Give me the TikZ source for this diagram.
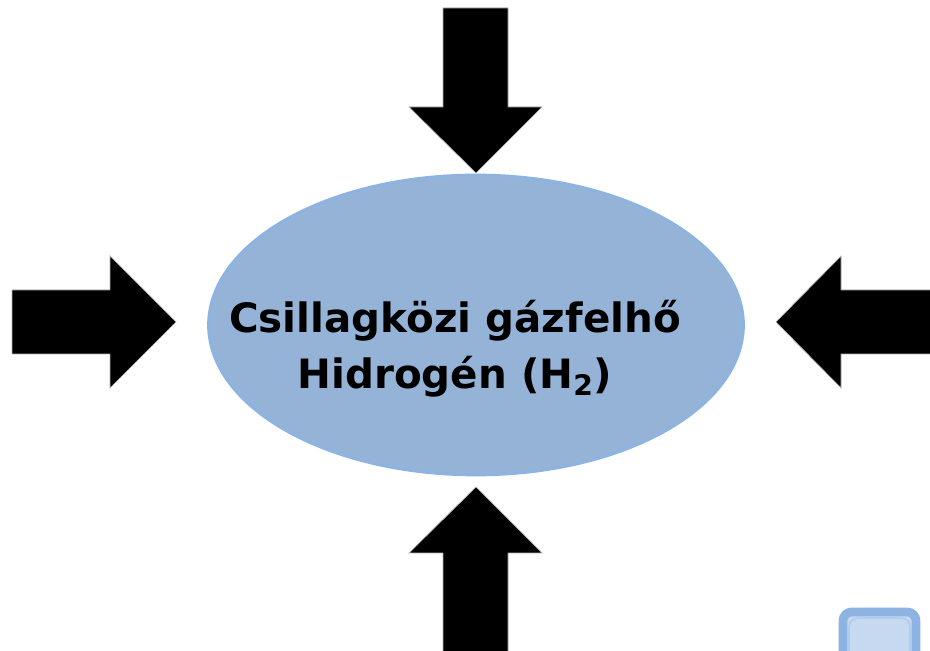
\documentclass[tikz,border=0pt]{standalone}
\usepackage{fontspec}
\setmainfont{DejaVu Sans}
\usetikzlibrary{shapes.geometric}

\definecolor{cloudfill}{HTML}{95B3D7}
\definecolor{cloudline}{HTML}{8DB3E2}
\definecolor{btnline}{HTML}{8DB3E2}
\definecolor{btnfill}{HTML}{C6D9F1}
\definecolor{btninner}{HTML}{B0CBEE}

\begin{document}
\begin{tikzpicture}[
    x=0.02cm, y=-0.02cm,
    cloud/.style={ellipse, draw=cloudline, line width=1.6pt, fill=cloudfill,
                  minimum width=10.7cm, minimum height=6cm, inner sep=0pt},
    cloudtext/.style={align=center, inner sep=0pt,
                  font=\bfseries\fontsize{23}{32}\selectfont},
    pusharrow/.style={fill=black, draw=gray!60, line width=0.4pt},
    btn/.style={rounded corners=5pt}
  ]
    \useasboundingbox (0,0) rectangle (930,651);
    \clip (0,0) rectangle (930,651);

    % gas cloud in the middle
    \node[cloud] (gas) at (476,325) {};
    \node[cloudtext] (gaslabel) at (455,349) {Csillagközi gázfelhő\\Hidrogén (H\textsubscript{2})};

    % the four pushing arrows
    \fill[pusharrow] (443,8) -- (508,8) -- (508,107) -- (542,107) -- (476,173)
                     -- (409,107) -- (443,107) -- cycle;
    \fill[pusharrow] (443,660) -- (508,660) -- (508,553) -- (542,553) -- (476,487)
                     -- (409,553) -- (443,553) -- cycle;
    \fill[pusharrow] (12,290) -- (110,290) -- (110,256) -- (176,322) -- (110,388)
                     -- (110,354) -- (12,354) -- cycle;
    \fill[pusharrow] (940,290) -- (841,290) -- (841,256) -- (776,322) -- (841,388)
                     -- (841,354) -- (940,354) -- cycle;

    % small button in the corner
    \draw[btn, draw=btnline, line width=5pt, fill=btnfill] (843,612) rectangle (916,680);
    \draw[btn, draw=btninner, line width=1pt] (849,618) rectangle (910,680);
\end{tikzpicture}
\end{document}
